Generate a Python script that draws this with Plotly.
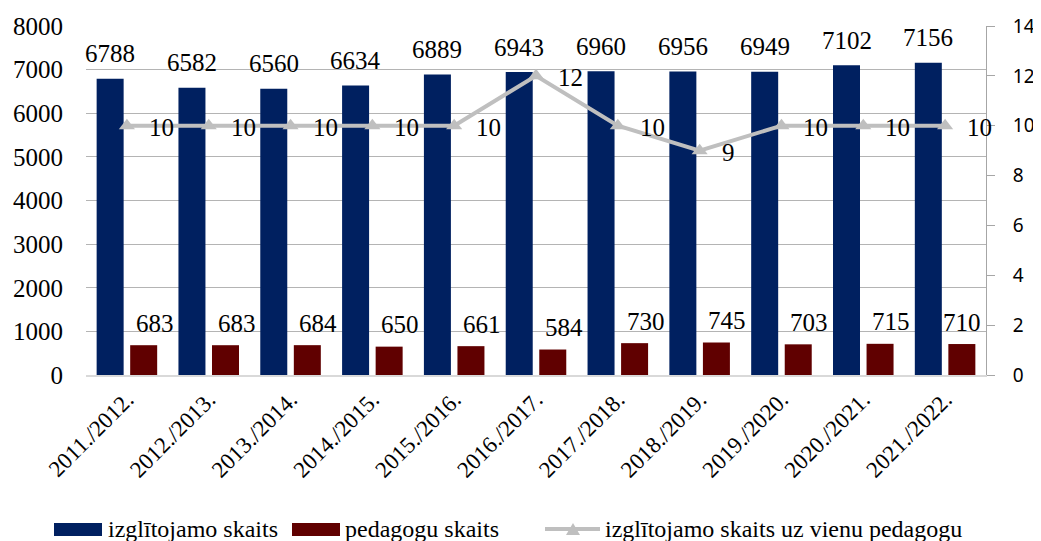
import plotly.graph_objects as go

years = ["2011./2012.", "2012./2013.", "2013./2014.", "2014./2015.", "2015./2016.",
         "2016./2017.", "2017./2018.", "2018./2019.", "2019./2020.", "2020./2021.",
         "2021./2022."]
students = [6788, 6582, 6560, 6634, 6889, 6943, 6960, 6956, 6949, 7102, 7156]
teachers = [683, 683, 684, 650, 661, 584, 730, 745, 703, 715, 710]
ratio = [10, 10, 10, 10, 10, 12, 10, 9, 10, 10, 10]

BLUE = "#002060"
RED = "#600000"
GREY = "#bfbfbf"
SERIF = "Liberation Serif"
SANS = "Noto Sans"

# page body has an 8px margin, so the figure is shrunk and shifted by that much
OFF = 8
W, H = 1041 - OFF, 541 - OFF
ML, MT = 86 - OFF, 26 - OFF
PW, PH = 900, 349
MR, MB = W - ML - PW, H - MT - PH


def fx(px):
    return (px - OFF - ML) / PW


def fy(py):
    return (MT + PH - (py - OFF)) / PH


fig = go.Figure()
fig.add_trace(go.Bar(x=years, y=students, name="izglītojamo skaits",
                     marker=dict(color=BLUE, line_width=0), offset=-0.37, width=0.33))
fig.add_trace(go.Bar(x=years, y=teachers, name="pedagogu skaits",
                     marker=dict(color=RED, line_width=0), offset=0.04, width=0.33))
fig.add_trace(go.Scatter(x=years, y=ratio, yaxis="y2", mode="lines+markers",
                         name="izglītojamo skaits uz vienu pedagogu",
                         line=dict(color=GREY, width=4),
                         marker=dict(symbol="triangle-up", size=14, color=GREY)))

lbl = dict(family=SERIF, size=25, color="black")
ann = []
for i, v in enumerate(students):
    ann.append(dict(x=i - 0.205, y=v, xref="x", yref="y", text=str(v), showarrow=False,
                    yanchor="middle", yshift=25, font=lbl))
for i, v in enumerate(teachers):
    ann.append(dict(x=i + 0.205, y=v, xref="x", yref="y", text=str(v), showarrow=False,
                    yanchor="middle", yshift=22, xshift=11 if i < 10 else 0, font=lbl))
for i, v in enumerate(ratio):
    ann.append(dict(x=i, y=v, xref="x", yref="y2", text=str(v), showarrow=False,
                    xanchor="left", yanchor="middle", xshift=20, yshift=-2, font=lbl))

# legend drawn by hand (wide Excel-style keys)
shapes = [
    dict(type="rect", xref="paper", yref="paper", x0=fx(54), x1=fx(102), y0=fy(536), y1=fy(523),
         fillcolor=BLUE, line_width=0),
    dict(type="rect", xref="paper", yref="paper", x0=fx(292), x1=fx(340), y0=fy(536), y1=fy(523),
         fillcolor=RED, line_width=0),
    dict(type="line", xref="paper", yref="paper", x0=fx(545), x1=fx(600), y0=fy(529), y1=fy(529),
         line=dict(color=GREY, width=4)),
    dict(type="path", xref="paper", yref="paper",
         path=f"M {fx(566)},{fy(535)} L {fx(580)},{fy(535)} L {fx(573)},{fy(523)} Z",
         fillcolor=GREY, line_width=0),
]
for xpos, label in [(106, "izglītojamo skaits"), (343, "pedagogu skaits"),
                    (603, "izglītojamo skaits uz vienu pedagogu")]:
    ann.append(dict(x=fx(xpos), y=fy(529), xref="paper", yref="paper", text=label,
                    showarrow=False, xanchor="left", yanchor="middle",
                    font=dict(family=SERIF, size=24, color="black")))

fig.update_layout(
    width=W, height=H,
    margin=dict(l=ML, r=MR, t=MT, b=MB, autoexpand=False),
    paper_bgcolor="white", plot_bgcolor="white",
    barmode="overlay", showlegend=False,
    font=dict(family=SERIF, size=24, color="black"),
    xaxis=dict(type="category", range=[-0.5, len(years) - 0.5], tickangle=-45,
               tickfont=dict(family=SERIF, size=23),
               showline=True, linecolor="#d9d9d9", linewidth=2, ticks="", showgrid=False),
    yaxis=dict(range=[0, 8000], dtick=1000, showgrid=True, gridcolor="#b4b4b4", gridwidth=1,
               zeroline=False, ticks="", ticklabelstandoff=22,
               tickfont=dict(family=SERIF, size=25)),
    yaxis2=dict(range=[0, 14], dtick=2, overlaying="y", side="right", showgrid=False,
                zeroline=False, showline=True, linecolor="#a6a6a6", linewidth=1,
                ticks="outside", ticklen=8, tickcolor="#a6a6a6", ticklabelstandoff=14,
                tickfont=dict(family=SANS, size=19)),
    annotations=ann, shapes=shapes,
)

fig.write_html("out.html")
